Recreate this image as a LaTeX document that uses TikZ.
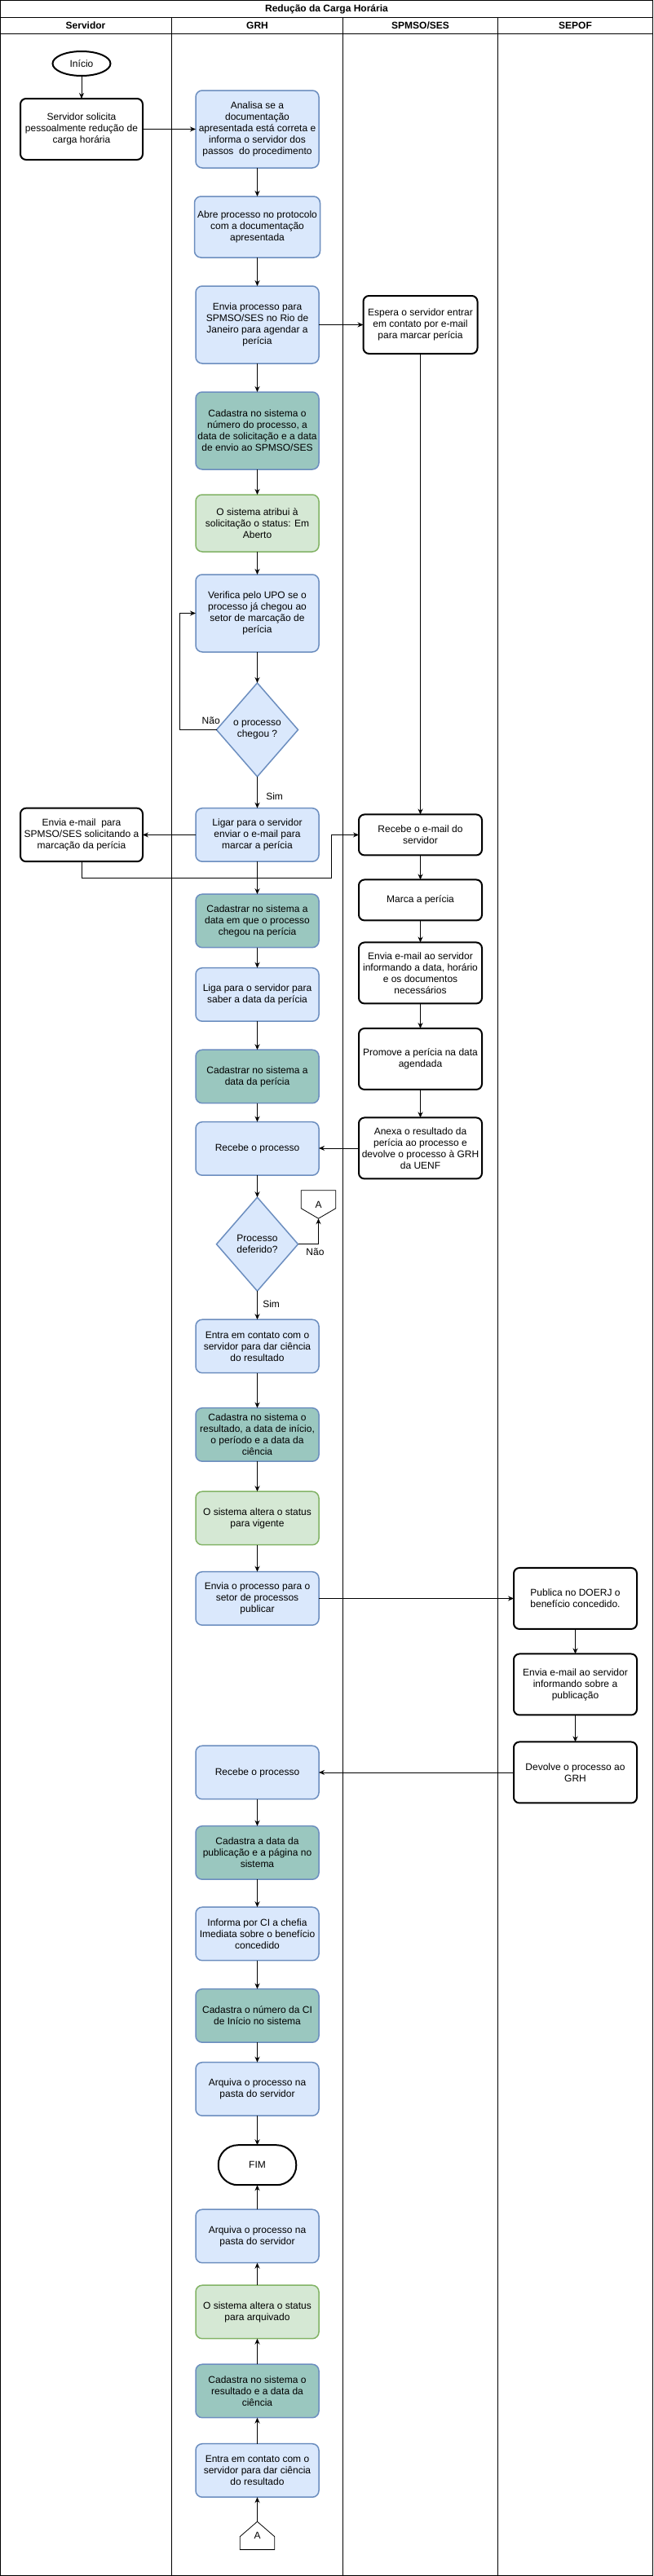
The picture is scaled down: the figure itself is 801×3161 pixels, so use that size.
\documentclass[tikz,border=0pt]{standalone}
\usepackage{fontspec}
\setmainfont{Liberation Sans}
\usepackage{xcolor}
\usepackage{tikz}
\usetikzlibrary{positioning}
\usetikzlibrary{shapes.geometric}
\usetikzlibrary{arrows.meta}

\definecolor{azulclaro}{HTML}{DAE8FC}
\definecolor{azulborda}{HTML}{6C8EBF}
\definecolor{verdeclaro}{HTML}{D5E8D4}
\definecolor{verdeborda}{HTML}{82B366}
\definecolor{verdeagua}{HTML}{9AC7BF}

\begin{document}
\begin{tikzpicture}[x=1pt, y=1pt, >={Stealth[length=7pt,width=6pt]}, node distance=35pt,
    every node/.style={font=\fontsize{12}{14}\selectfont},
    cabecalho/.style={font=\bfseries\fontsize{12}{14}\selectfont},
    tarefa/.style={draw=azulborda, fill=azulclaro, line width=1.5pt, rounded corners=8pt, minimum width=151pt, minimum height=65.5pt, inner sep=2pt, outer sep=0pt, align=center},
    registro/.style={tarefa, fill=verdeagua},
    sistema/.style={tarefa, draw=verdeborda, fill=verdeclaro},
    externo/.style={draw, line width=2pt, rounded corners=7pt, minimum width=151pt, minimum height=75pt, inner sep=2pt, outer sep=0pt, align=center},
    decisao/.style={diamond, draw=azulborda, fill=azulclaro, line width=1.5pt, minimum width=100pt, minimum height=115pt, inner sep=0pt, outer sep=0pt, align=center},
    conector/.style={minimum width=42pt, minimum height=34pt, inner sep=0pt},
    fluxo/.style={->, line width=0.9pt}]
\useasboundingbox (0,0) rectangle (801,-3161);
% raias
\draw[line width=0.8pt] (0.5,-0.5) rectangle (800.5,-3160.5);
\draw[line width=0.8pt] (0.5,-21) -- (800.5,-21);
\draw[line width=0.8pt] (0.5,-41) -- (800.5,-41);
\draw[line width=0.8pt] (210.5,-21) -- (210.5,-3160.5);
\draw[line width=0.8pt] (420,-21) -- (420,-3160.5);
\draw[line width=0.8pt] (610.5,-21) -- (610.5,-3160.5);
\node[cabecalho] (titulo) at (400.5,-11) {Redução da Carga Horária};
\node[cabecalho] (servidor) at (105,-31) {Servidor};
\node[cabecalho] (grh) at (315.5,-31) {GRH};
\node[cabecalho] (spmso) at (515.5,-31) {SPMSO/SES};
\node[cabecalho] (sepof) at (705.5,-31) {SEPOF};

% GRH
\node[tarefa, minimum height=95pt] (analisa) at (315.5,-158.5) {Analisa se a\\documentação\\apresentada está correta e\\informa o servidor dos\\passos\ \ do procedimento};
\node[tarefa, minimum width=154pt, minimum height=75pt, below=35pt of analisa] (abre) {Abre processo no protocolo\\com a documentação\\apresentada};
\node[tarefa, minimum height=95pt, below=35pt of abre] (envia) {Envia processo para\\SPMSO/SES no Rio de\\Janeiro para agendar a\\perícia};
\node[registro, minimum height=95pt, below=35pt of envia] (cadnum) {Cadastra no sistema o\\número do processo, a\\data de solicitação e a data\\de envio ao SPMSO/SES};
\node[sistema, minimum height=70pt, below=31pt of cadnum] (atribui) {O sistema atribui à\\solicitação o status: Em\\Aberto};
\node[tarefa, minimum height=95pt, below=28pt of atribui] (verifica) {Verifica pelo UPO se o\\processo já chegou ao\\setor de marcação de\\perícia};
\node[decisao, below=38pt of verifica] (chegou) {o processo\\chegou ?};
\node[tarefa, below=38.7pt of chegou] (ligar) {Ligar para o servidor\\enviar o e-mail para\\marcar a perícia};
\node[registro, below=40pt of ligar] (cadchegou) {Cadastrar no sistema a\\data em que o processo\\chegou na perícia};
\node[tarefa, below=25pt of cadchegou] (liga) {Liga para o servidor para\\saber a data da perícia};
\node[registro, below=35pt of liga] (caddata) {Cadastrar no sistema a\\data da perícia};
\node[tarefa, below=23pt of caddata] (recebe) {Recebe o processo};
\node[decisao, below=27pt of recebe] (deferido) {Processo\\deferido?};
\node[conector] (conA) at (390.5,-1478) {A};
\node[tarefa, below=35pt of deferido] (entra) {Entra em contato com o\\servidor para dar ciência\\do resultado};
\node[registro, below=43pt of entra] (cadres) {Cadastra no sistema o\\resultado, a data de início,\\o período e a data da\\ciência};
\node[sistema, below=37pt of cadres] (vigente) {O sistema altera o status\\para vigente};
\node[tarefa, below=33pt of vigente] (enviapub) {Envia o processo para o\\setor de processos\\publicar};
\node[tarefa, below=148pt of enviapub] (recebe2) {Recebe o processo};
\node[registro, below=33pt of recebe2] (cadpub) {Cadastra a data da\\publicação e a página no\\sistema};
\node[tarefa, below=34pt of cadpub] (informa) {Informa por CI a chefia\\Imediata sobre o benefício\\concedido};
\node[registro, below=35pt of informa] (cadci) {Cadastra o número da CI\\de Início no sistema};
\node[tarefa, below=24.5pt of cadci] (arquiva) {Arquiva o processo na\\pasta do servidor};
\node[draw, line width=2pt, rounded corners=24pt, minimum width=95.5pt, minimum height=49pt, outer sep=0pt, below=36pt of arquiva] (fim) {FIM};
\node[tarefa, below=30pt of fim] (arquiva2) {Arquiva o processo na\\pasta do servidor};
\node[sistema, below=27.5pt of arquiva2] (arquivado) {O sistema altera o status\\para arquivado};
\node[registro, below=31.5pt of arquivado] (cadres2) {Cadastra no sistema o\\resultado e a data da\\ciência};
\node[tarefa, below=32pt of cadres2] (entra2) {Entra em contato com o\\servidor para dar ciência\\do resultado};
\node[conector, below=30pt of entra2] (conA2) {A};

% Servidor
\node[externo, minimum width=150pt, left=65pt of analisa] (solicita) {Servidor solicita\\pessoalmente redução de\\carga horária};
\node[draw, ellipse, line width=2pt, minimum width=71pt, minimum height=30pt, inner sep=0pt, outer sep=0pt, above=28pt of solicita] (inicio) {Início};
\node[externo, minimum width=150pt, minimum height=65.5pt, left=65pt of ligar] (emailsrv) {Envia e-mail\ \ para\\SPMSO/SES solicitando a\\marcação da perícia};

% SPMSO/SES
\node[externo, minimum width=140pt, minimum height=71pt, right=54.5pt of envia] (espera) {Espera o servidor entrar\\em contato por e-mail\\para marcar perícia};
\node[externo, minimum height=50pt, right=49pt of ligar] (recebemail) {Recebe o e-mail do\\servidor};
\node[externo, minimum height=50pt, below=30pt of recebemail] (marca) {Marca a perícia};
\node[externo, below=27pt of marca] (enviadata) {Envia e-mail ao servidor\\informando a data, horário\\e os documentos\\necessários};
\node[externo, below=30.5pt of enviadata] (promove) {Promove a perícia na data\\agendada};
\node[externo, below=34.5pt of promove] (anexa) {Anexa o resultado da\\perícia ao processo e\\devolve o processo à GRH\\da UENF};

% SEPOF
\node[externo, right=239pt of enviapub] (publica) {Publica no DOERJ o\\benefício concedido.};
\node[externo, below=30.5pt of publica] (emailpub) {Envia e-mail ao servidor\\informando sobre a\\publicação};
\node[externo, below=33pt of emailpub] (devolve) {Devolve o processo ao\\GRH};

% conectores de pagina
\draw[line width=0.8pt, fill=white] (conA.north west) -- (conA.north east) -- ([yshift=-22pt]conA.north east) -- (conA.south) -- ([yshift=-22pt]conA.north west) -- cycle;
\node (letraA) at (conA) {A};
\draw[line width=0.8pt, fill=white] (conA2.south west) -- (conA2.south east) -- ([yshift=16pt]conA2.south east) -- (conA2.north) -- ([yshift=16pt]conA2.south west) -- cycle;
\node (letraA2) at (conA2) {A};

% fluxo
\draw[fluxo] (inicio) -- (solicita);
\draw[fluxo] (solicita) -- (analisa);
\draw[fluxo] (analisa) -- (abre);
\draw[fluxo] (abre) -- (envia);
\draw[fluxo] (envia) -- (espera);
\draw[fluxo] (envia) -- (cadnum);
\draw[fluxo] (cadnum) -- (atribui);
\draw[fluxo] (atribui) -- (verifica);
\draw[fluxo] (verifica) -- (chegou);
\draw[fluxo] (chegou.west) -- node[pos=0.15, above=3pt] {Não} ++(-45,0) |- (verifica.west);
\draw[fluxo] (chegou) -- node[pos=0.63, right=7pt] {Sim} (ligar);
\draw[fluxo] (ligar) -- (emailsrv);
\draw[fluxo] (espera) -- (recebemail);
\coordinate (desvio) at (406,-1077.7);
\draw[fluxo] (emailsrv.south) |- (desvio) |- (recebemail.west);
\draw[fluxo] (ligar) -- (cadchegou);
\draw[fluxo] (cadchegou) -- (liga);
\draw[fluxo] (liga) -- (caddata);
\draw[fluxo] (caddata) -- (recebe);
\draw[fluxo] (recebemail) -- (marca);
\draw[fluxo] (marca) -- (enviadata);
\draw[fluxo] (enviadata) -- (promove);
\draw[fluxo] (promove) -- (anexa);
\draw[fluxo] (anexa.west) -- (anexa.west -| recebe.east);
\draw[fluxo] (recebe) -- (deferido);
\draw[fluxo] (deferido.east) -| node[pos=0.42, below=1pt] {Não} (conA.south);
\draw[fluxo] (deferido) -- node[pos=0.45, right=3pt] {Sim} (entra);
\draw[fluxo] (entra) -- (cadres);
\draw[fluxo] (cadres) -- (vigente);
\draw[fluxo] (vigente) -- (enviapub);
\draw[fluxo] (enviapub) -- (publica);
\draw[fluxo] (publica) -- (emailpub);
\draw[fluxo] (emailpub) -- (devolve);
\draw[fluxo] (devolve) -- (recebe2);
\draw[fluxo] (recebe2) -- (cadpub);
\draw[fluxo] (cadpub) -- (informa);
\draw[fluxo] (informa) -- (cadci);
\draw[fluxo] (cadci) -- (arquiva);
\draw[fluxo] (arquiva) -- (fim);
\draw[fluxo] (conA2.north) -- (entra2);
\draw[fluxo] (entra2) -- (cadres2);
\draw[fluxo] (cadres2) -- (arquivado);
\draw[fluxo] (arquivado) -- (arquiva2);
\draw[fluxo] (arquiva2) -- (fim);
\end{tikzpicture}
\end{document}
